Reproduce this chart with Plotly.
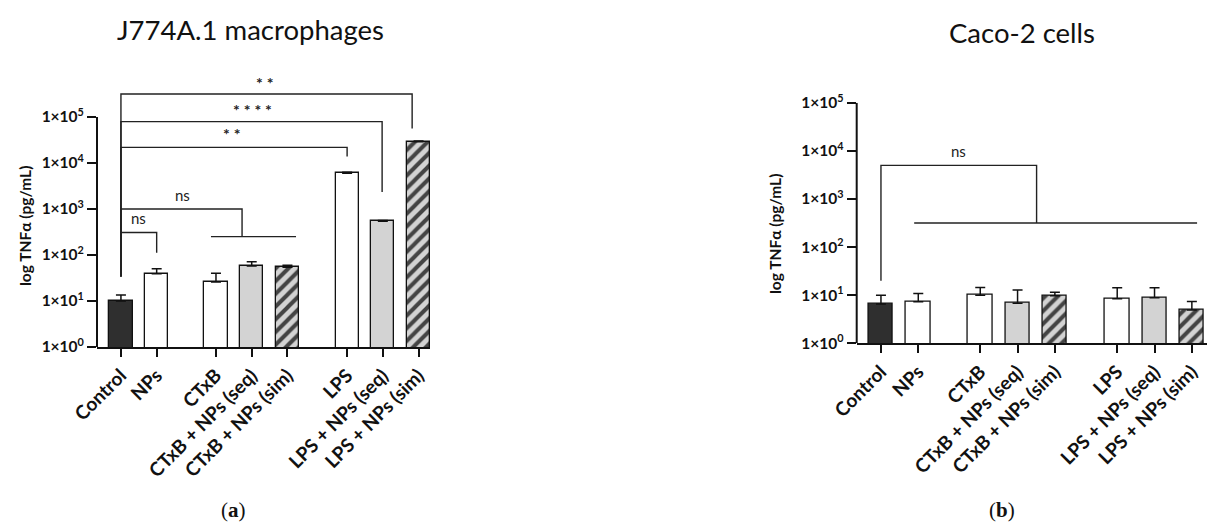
import plotly.graph_objects as go

# ---------------- data ----------------
categories = ["Control", "NPs", "CTxB", "CTxB + NPs (seq)", "CTxB + NPs (sim)",
              "LPS", "LPS + NPs (seq)", "LPS + NPs (sim)"]
positions = [0, 1, 2.66, 3.66, 4.66, 6.33, 7.33, 8.33]

j774_mean = [10, 39, 26, 58, 54, 6000, 540, 29000]
j774_upper = [13.5, 50, 40, 71, 60, 6300, 560, 30000]

caco_mean = [6.6, 7.3, 10, 6.8, 9.7, 8.4, 8.9, 4.9]
caco_upper = [10, 10.8, 14.4, 12.9, 11.5, 14.2, 14.2, 7.4]

ytick_vals = [1, 10, 100, 1000, 10000, 100000]
ytick_text = ["1×10<sup>%d</sup>" % i for i in range(6)]

bar_colors = ["#2f2f2f", "#ffffff", "#ffffff", "#d3d3d3", "#d3d3d3",
              "#ffffff", "#d3d3d3", "#d3d3d3"]
bar_patterns = ["", "", "", "", "/", "", "", "/"]

W, H = 1215, 532
OX, OY = 8, 8  # page body margin of the html page
FONT = "Lato"

fig = go.Figure()


def add_bars(xa, ya, means, uppers):
    fig.add_trace(go.Bar(
        x=positions, y=means, width=0.65,
        xaxis=xa, yaxis=ya,
        marker=dict(color=bar_colors,
                    line=dict(color="#111111", width=1.3),
                    pattern=dict(shape=bar_patterns, fillmode="overlay",
                                 fgcolor="#000000", fgopacity=1,
                                 size=9, solidity=0.45)),
        error_y=dict(type="data", symmetric=False,
                     array=[u - m for u, m in zip(uppers, means)],
                     arrayminus=[0] * len(means),
                     color="#111111", thickness=1.5, width=5),
        showlegend=False,
    ))


add_bars("x", "y", j774_mean, j774_upper)
add_bars("x2", "y2", caco_mean, caco_upper)

# pixel geometry (reference pixels) -> domains
L_x0, L_x1 = 97 - OX, 430 - OX
L_ybot, L_dec = 347 - OY, 46.0
L_ytop_log = 5.85
R_x0 = 856.7 - OX
R_ybot, R_dec = 343.3 - OY, 48.1
R_ytop_log = 5.0
R_xmax = 8.95 + OX / 37.3

xaxis_common = dict(
    tickmode="array", tickvals=positions, ticktext=categories,
    tickangle=-45, ticks="outside", ticklen=8, tickwidth=2, tickcolor="#111111",
    showline=True, linecolor="#111111", linewidth=2, showgrid=False, zeroline=False,
    automargin=False,
    tickfont=dict(family=FONT, size=19, color="#111111", weight="bold"),
)
yaxis_common = dict(
    type="log", tickmode="array", tickvals=ytick_vals, ticktext=ytick_text,
    ticks="outside", ticklen=9, tickwidth=2, tickcolor="#111111",
    showline=False, showgrid=False, zeroline=False, automargin=False,
    tickfont=dict(family=FONT, size=15.5, color="#111111", weight="bold"),
)

fig.update_layout(
    template="none",
    width=W, height=H, margin=dict(l=0, r=0, t=0, b=0, autoexpand=False),
    paper_bgcolor="white", plot_bgcolor="rgba(0,0,0,0)",
    bargap=0,
    xaxis=dict(domain=[L_x0 / W, L_x1 / W], range=[-0.67, 8.65], anchor="y", **xaxis_common),
    yaxis=dict(domain=[1 - L_ybot / H, 1 - (L_ybot - L_ytop_log * L_dec) / H],
               range=[0, L_ytop_log], anchor="x", **yaxis_common),
    xaxis2=dict(domain=[R_x0 / W, 1.0], range=[-0.65, R_xmax], anchor="y2", **xaxis_common),
    yaxis2=dict(domain=[1 - R_ybot / H, 1 - (R_ybot - R_ytop_log * R_dec) / H],
                range=[0, R_ytop_log], anchor="x2", **yaxis_common),
)

LINE = dict(color="#222222", width=1.4)


def path(pts, xr, yr):
    # shape coordinates on log axes are given in data units
    d = "M " + " L ".join("%g,%g" % (x, y) for x, y in pts)
    fig.add_shape(type="path", path=d, xref=xr, yref=yr, line=LINE)


# y axis lines (1e0 .. 1e5)
for xr, yr in (("x", "y"), ("x2", "y2")):
    fig.add_shape(type="line", xref=xr + " domain", yref=yr, x0=0, x1=0,
                  y0=1, y1=1e5, line=dict(color="#111111", width=2))

# --- significance brackets: left panel ---
ctrl_base = 10 ** 1.53
path([(0, ctrl_base), (0, 10 ** 2.49), (1, 10 ** 2.49), (1, 10 ** 2.05)], "x", "y")
path([(0, ctrl_base), (0, 10 ** 3.0), (3.39, 10 ** 3.0), (3.39, 10 ** 2.40)], "x", "y")
path([(2.52, 10 ** 2.40), (4.9, 10 ** 2.40)], "x", "y")
path([(0, ctrl_base), (0, 10 ** 4.34), (6.33, 10 ** 4.34), (6.33, 10 ** 4.14)], "x", "y")
path([(0, ctrl_base), (0, 10 ** 4.90), (7.31, 10 ** 4.90), (7.31, 10 ** 3.37)], "x", "y")
path([(0, ctrl_base), (0, 10 ** 5.50), (8.15, 10 ** 5.50), (8.15, 10 ** 4.75)], "x", "y")

# --- right panel ---
path([(0, 10 ** 1.30), (0, 10 ** 3.70), (4.17, 10 ** 3.70), (4.17, 10 ** 2.5)], "x2", "y2")
path([(0.89, 10 ** 2.5), (8.47, 10 ** 2.5)], "x2", "y2")

sig_font = dict(family=FONT, size=15, color="#222222")
star_font = dict(family=FONT, size=16, color="#222222", weight="bold")
# annotation positions on log axes are given as log10 values
sig_labels = [
    ("ns", 0.5, 2.80, "x", "y", sig_font),
    ("ns", 1.71, 3.30, "x", "y", sig_font),
    ("* *", 3.1, 4.65, "x", "y", star_font),
    ("* * * *", 3.67, 5.17, "x", "y", star_font),
    ("* *", 4.03, 5.76, "x", "y", star_font),
    ("ns", 2.09, 4.0, "x2", "y2", sig_font),
]
for t, x, y, xr, yr, f in sig_labels:
    fig.add_annotation(text=t, x=x, y=y, xref=xr, yref=yr, showarrow=False,
                       xanchor="center", yanchor="middle", font=f)


def paper_text(t, x, y, font, angle=0):
    fig.add_annotation(text=t, x=(x - OX) / W, y=1 - (y - OY) / H, xref="paper", yref="paper",
                       xanchor="center", yanchor="middle", textangle=angle,
                       showarrow=False, font=font)


paper_text("J774A.1 macrophages", 250, 30, dict(family=FONT, size=27.5, color="#111111"))
paper_text("Caco-2 cells", 1022, 33, dict(family=FONT, size=27.5, color="#111111"))
paper_text("(<b>a</b>)", 233, 510, dict(family="Liberation Serif", size=21, color="#111111"))
paper_text("(<b>b</b>)", 1002, 510, dict(family="Liberation Serif", size=21, color="#111111"))
for x, y in ((25, 226), (775, 234)):
    paper_text("log TNFα (pg/mL)", x, y,
               dict(family=FONT, size=15.5, color="#111111", weight="bold"), angle=-90)

fig.write_html("out.html")
